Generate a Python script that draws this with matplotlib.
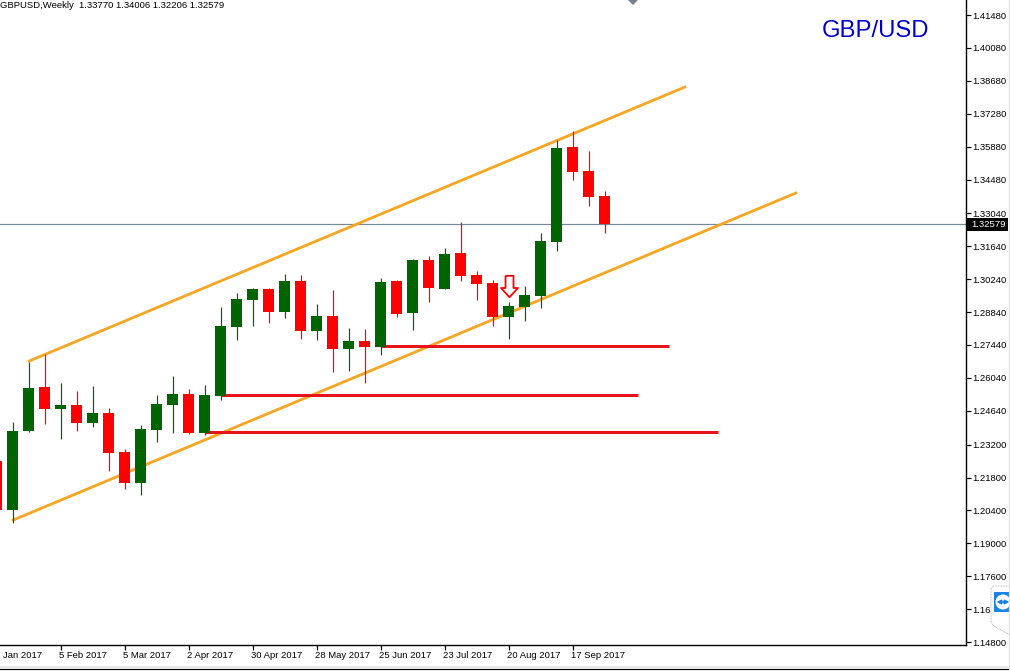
#! /usr/bin/env python3

import matplotlib
matplotlib.use("Agg")
import matplotlib.pyplot as plt
from matplotlib.patches import Polygon, Rectangle, Circle

plt.rcParams["font.family"] = ["Liberation Sans", "DejaVu Sans"]

# weekly candles, first one is cut off by the left edge
opens = [1.22523, 1.20438, 1.23770, 1.25672, 1.24736, 1.24906, 1.24140, 1.24566, 1.22906, 1.21587,
         1.23842, 1.24906, 1.25374, 1.23715, 1.25289, 1.28225, 1.29374, 1.29842, 1.28863, 1.30183,
         1.28055, 1.28693, 1.27289, 1.27629, 1.27374, 1.30183, 1.28821, 1.31076, 1.29842, 1.31374,
         1.30438, 1.30097, 1.28651, 1.29076, 1.29544, 1.31842, 1.35885, 1.34863, 1.33770]
highs = [1.22900, 1.24183, 1.26736, 1.27076, 1.25842, 1.25502, 1.25715, 1.24778, 1.23034, 1.24055,
         1.25332, 1.26140, 1.25587, 1.25757, 1.29076, 1.29672, 1.29885, 1.29885, 1.30480, 1.30438,
         1.29204, 1.29800, 1.28183, 1.28140, 1.30310, 1.30225, 1.31119, 1.31246, 1.31587, 1.32693,
         1.30608, 1.30225, 1.29289, 1.29970, 1.32225, 1.36183, 1.36566, 1.35714, 1.34006]
lows = [1.20100, 1.19855, 1.23727, 1.24098, 1.23459, 1.23800, 1.23970, 1.22098, 1.21332, 1.21076,
        1.23332, 1.23715, 1.23672, 1.23629, 1.25119, 1.27672, 1.28268, 1.28395, 1.28608, 1.27715,
        1.27672, 1.26310, 1.26353, 1.25842, 1.27034, 1.28651, 1.28098, 1.29289, 1.29842, 1.30183,
        1.29374, 1.28268, 1.27715, 1.28480, 1.29034, 1.31459, 1.34480, 1.33374, 1.32206]
closes = [1.20438, 1.23770, 1.25629, 1.24736, 1.24906, 1.24140, 1.24566, 1.22863, 1.21587, 1.23885,
          1.24949, 1.25374, 1.23715, 1.25332, 1.28268, 1.29417, 1.29842, 1.28863, 1.30183, 1.28055,
          1.28693, 1.27289, 1.27629, 1.27374, 1.30140, 1.28778, 1.31076, 1.29885, 1.31332, 1.30395,
          1.30055, 1.28651, 1.29119, 1.29587, 1.31885, 1.35842, 1.34821, 1.33757, 1.32579]

ytick_values = [1.41480, 1.40080, 1.38680, 1.37280, 1.35880, 1.34480, 1.33040, 1.31640, 1.30240, 1.28840,
                1.27440, 1.26040, 1.24640, 1.23200, 1.21800, 1.20400, 1.19000, 1.17600, 1.16200, 1.14800]
ytick_labels = ["1.41480", "1.40080", "1.38680", "1.37280", "1.35880", "1.34480", "1.33040", "1.31640",
                "1.30240", "1.28840", "1.27440", "1.26040", "1.24640", "1.23200", "1.21800", "1.20400",
                "1.19000", "1.17600", "1.16", "1.14800"]
date_labels = ["Jan 2017", "5 Feb 2017", "5 Mar 2017", "2 Apr 2017", "30 Apr 2017",
               "28 May 2017", "25 Jun 2017", "23 Jul 2017", "20 Aug 2017", "17 Sep 2017"]
date_positions = [0, 4, 8, 12, 16, 20, 24, 28, 32, 36]

# drawn trend lines: (bar index, price)
upper_channel_x = [1.97, 43.1]
upper_channel_y = [1.26736, 1.38438]
lower_channel_x = [0.97, 50.03]
lower_channel_y = [1.19970, 1.33927]

support_levels = [1.27396, 1.25310, 1.23736]
support_start = [24, 14, 13]
support_end = [42.03, 40.09, 45.09]

arrow_index = 32
arrow_price = 1.29957

GREEN = "#006400"
RED = "#ff0000"
ORANGE = "#f5a623"
LINE_RED = "#e8141c"
SMALL = 6.8

W, H = 1010, 671
px = 0.72  # one pixel in points at dpi 100

fig = plt.figure(figsize=(W / 100, H / 100), dpi=100, facecolor="white")
ax = fig.add_axes([0, (H - 645) / H, 966 / W, 645 / H])
ax.set_xlim(0.21875, 0.21875 + 966 / 16)
ax.set_ylim(1.42120 - 645 * 0.00042553, 1.42120)

for s in ["left", "top"]:
    ax.spines[s].set_visible(False)
for s in ["right", "bottom"]:
    ax.spines[s].set_linewidth(1.4 * px)

last = closes[-1]
ax.axhline(last, color="#778899", lw=1.2 * px, zorder=1)

ax.plot(upper_channel_x, upper_channel_y, color=ORANGE, lw=2.8 * px, zorder=2, solid_capstyle="butt")
ax.plot(lower_channel_x, lower_channel_y, color=ORANGE, lw=2.8 * px, zorder=2, solid_capstyle="butt")

for level, x0, x1 in zip(support_levels, support_start, support_end):
    ax.plot([x0, x1], [level, level], color=LINE_RED, lw=3 * px, zorder=2.5, solid_capstyle="butt")

for i, (o, h, l, c) in enumerate(zip(opens, highs, lows, closes)):
    color = GREEN if c >= o else RED
    ax.vlines(i, l, h, color=color, lw=1.2 * px, zorder=3)
    ax.bar(i, abs(c - o), bottom=min(o, c), width=11 / 16, color=color, linewidth=0, zorder=3.5)

arrow_shape = [(-4, 10.7), (4, 10.7), (4, -1.5), (8.5, -1.5), (0, -10.7), (-8.5, -1.5), (-4, -1.5), (-4, 10.7)]
ax.plot(arrow_index, arrow_price, marker=arrow_shape, ms=21.4 * px, mfc="white", mec=RED, mew=1.8 * px,
        ls="none", zorder=4)

ax.yaxis.tick_right()
ax.set_yticks(ytick_values)
ax.set_yticklabels(ytick_labels)
ax.tick_params(axis="y", direction="out", length=5 * px, width=1.2 * px, pad=1.5 * px, labelsize=SMALL)

ax.set_xticks(date_positions[1:])
ax.set_xticklabels([])
ax.tick_params(axis="x", direction="out", length=4.5 * px, width=1.2 * px)
for pos, label in zip(date_positions, date_labels):
    dx = 6.5 if pos == 0 else -1.5
    ax.annotate(label, xy=(pos, 0), xycoords=ax.get_xaxis_transform(), xytext=(dx * px, -10 * px),
                textcoords="offset points", ha="left", va="center", fontsize=SMALL, annotation_clip=False)

# window furniture, in pixels
over = fig.add_axes([0, 0, 1, 1], facecolor="none")
over.set_xlim(0, W)
over.set_ylim(H, 0)
over.axis("off")

over.add_patch(Rectangle((967, 218), 41, 13, fc="black", ec="none"))
over.text(971, 224.5, f"{last:.5f}", fontsize=SMALL, color="white", ha="left", va="center")

over.text(0, 6, "GBPUSD,Weekly  1.33770 1.34006 1.32206 1.32579", fontsize=SMALL, ha="left", va="center")
over.text(822, 31, "GBP/USD", fontsize=17.2, color="#0000cd", ha="left", va="center")

over.add_patch(Polygon([(628, 0), (638, 0), (633, 5)], fc="#708090", ec="none"))

over.plot([0, 1008], [666.5, 666.5], color="#e0e0e0", lw=1.5 * px)
over.plot([0, 1008], [668.5, 668.5], color="black", lw=1.2 * px)
over.plot([1008.5, 1008.5], [0, 668], color="#e0e0e0", lw=1.2 * px)

over.add_patch(Polygon([(1010, 586), (993, 586), (991, 589), (991, 622), (994, 626), (1010, 635)],
                       fc="white", ec="#a0a0a0", lw=0.8 * px, ls=(0, (1, 1))))
over.add_patch(Rectangle((994, 592), 16, 20, fc="#1c84e0", ec="none"))
over.add_patch(Circle((1003, 602), 7.5, fc="white", ec="none"))
over.annotate("", xy=(996.5, 602), xytext=(1009.5, 602),
              arrowprops=dict(arrowstyle="<|-|>", color="#1c84e0", lw=1.2, mutation_scale=6,
                              shrinkA=0, shrinkB=0))

fig.savefig("out.png", dpi=100)
plt.close(fig)
